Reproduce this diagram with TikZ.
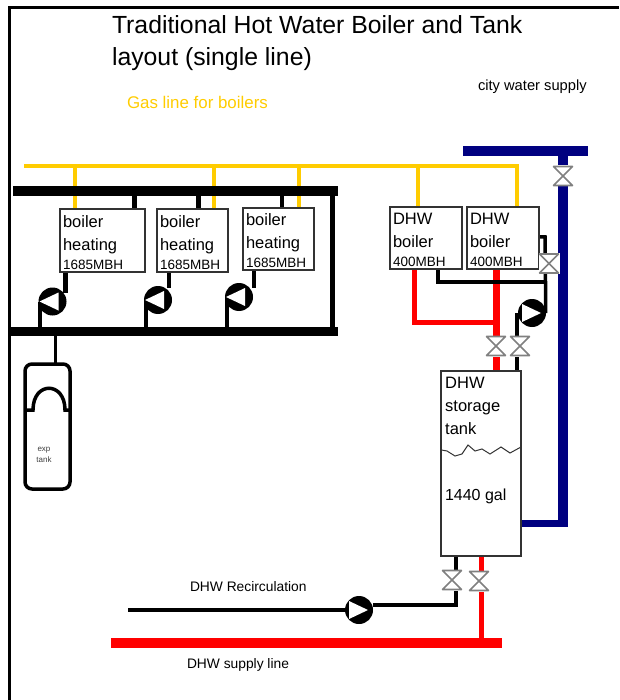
\documentclass[tikz,border=0pt]{standalone}
\usepackage{fontspec}
\setmainfont{Liberation Sans}
\pgfdeclarelayer{pipes}
\pgfsetlayers{pipes,main}
\definecolor{gasy}{HTML}{FFCC00}
\definecolor{cityb}{HTML}{000080}
\definecolor{boxg}{HTML}{333333}
\definecolor{valveg}{HTML}{808080}
\tikzset{
  bar/.style={rectangle,inner sep=0pt,outer sep=0pt,fill=black},
  unitbox/.style={rectangle,draw=boxg,fill=white,line width=1.2pt,inner xsep=3pt,inner ysep=0pt,outer sep=0pt,
    align=left,font=\fontsize{16.5}{23}\selectfont},
  valvebox/.style={rectangle,inner sep=0pt,outer sep=0pt,minimum width=21pt,minimum height=21pt,fill=white,
    path picture={\draw[valveg,line width=1.6pt,line join=round]
      (path picture bounding box.south west)++(1pt,1pt) -- ++(19pt,0pt) -- ++(-19pt,19pt) -- ++(19pt,0pt) -- cycle;}},
  pumpl/.style={circle,inner sep=0pt,outer sep=0pt,minimum size=28pt,fill=black,
    path picture={\fill[white,shift={(path picture bounding box.center)}]
      (-13pt,0pt) -- (6pt,-9pt) -- (6pt,9pt) -- cycle;}},
  pumpr/.style={circle,inner sep=0pt,outer sep=0pt,minimum size=28pt,fill=black,
    path picture={\fill[white,shift={(path picture bounding box.center)}]
      (9pt,0pt) -- (-10pt,-9pt) -- (-10pt,9pt) -- cycle;}},
  gas/.style={draw=gasy,line width=4pt},
  hw/.style={draw=black,line width=4.5pt},
  hot/.style={draw=red,line width=5pt},
  lbl/.style={inner sep=0pt,outer sep=0pt,anchor=base west},
}
\newcommand{\unittext}[3]{\rule{0pt}{16pt}#1\\#2\\[-4pt]{\fontsize{13.5}{20}\selectfont #3}}
\begin{document}
\begin{tikzpicture}[x=1pt,y=-1pt]
\useasboundingbox (0,0) rectangle (619,700);
% frame
\draw[black,line width=3pt] (9.5,700) -- (9.5,7.5) -- (619,7.5);
% titles
\node[lbl,font=\fontsize{24.8}{28}\selectfont] (title1) at (112,34) {Traditional Hot Water Boiler and Tank};
\node[lbl,font=\fontsize{24.8}{28}\selectfont] (title2) at (112,66) {layout (single line)};
\node[lbl,font=\fontsize{14.7}{17}\selectfont] (citylbl) at (478,91) {city water supply};
\node[lbl,text=gasy,font=\fontsize{16.9}{20}\selectfont] (gaslbl) at (127,109) {Gas line for boilers};
\node[lbl,font=\fontsize{13.8}{17}\selectfont] (recirclbl) at (190,591) {DHW Recirculation};
\node[lbl,font=\fontsize{13.8}{17}\selectfont] (supplylbl) at (187,668) {DHW supply line};
% headers
\node[bar,minimum width=325pt,minimum height=10pt] (hdrtop) at (175.5,191.5) {};
\node[bar,minimum width=329pt,minimum height=9pt] (hdrbot) at (173.5,331.5) {};
\node[bar,fill=cityb,minimum width=125pt,minimum height=10pt] (citybar) at (525.5,151) {};
\node[bar,fill=red,minimum width=391pt,minimum height=10pt] (supplybar) at (306.5,643) {};
\coordinate (gasw) at (24,166);
\coordinate (gase) at (517,166);
% boilers
\node[unitbox,text width=79pt,minimum height=63pt] (b1) at (102.5,240.5) {\unittext{boiler}{heating}{1685MBH}};
\node[unitbox,text width=65pt,minimum height=63pt] (b2) at (192.5,240.5) {\unittext{boiler}{heating}{1685MBH}};
\node[unitbox,text width=65pt,minimum height=62pt] (b3) at (278.5,239) {\unittext{boiler}{heating}{1685MBH}};
\node[unitbox,text width=66pt,minimum height=62pt] (d1) at (426,238) {\unittext{DHW}{boiler}{400MBH}};
\node[unitbox,text width=66pt,minimum height=62pt] (d2) at (503,238) {\unittext{DHW}{boiler}{400MBH}};
% pumps
\node[pumpl] (p1) at (52.5,301.5) {};
\node[pumpl] (p2) at (158,300) {};
\node[pumpl] (p3) at (239,297) {};
\node[pumpr] (p4) at (532,313) {};
\node[pumpr] (p5) at (359,610) {};
% valves
\node[valvebox] (vcity) at (563,176) {};
\node[valvebox] (vret) at (549,263.5) {};
\node[valvebox] (vhot) at (496,346) {};
\node[valvebox] (vrtn) at (520,346) {};
\node[valvebox] (vrec) at (452,580) {};
\node[valvebox] (vsup) at (479,581) {};
% storage tank
\node[rectangle,draw=boxg,fill=white,line width=1.2pt,inner sep=0pt,outer sep=0pt,minimum width=80pt,minimum height=185pt] (tank) at (481,463.5) {};
\node[inner sep=0pt,anchor=north west,align=left,font=\fontsize{16.5}{23}\selectfont] (tanklbl) at (445,377) {DHW\\storage\\tank};
\node[lbl,font=\fontsize{16}{20}\selectfont] (tankvol) at (445,500) {1440 gal};
\draw[boxg,line width=1pt] (441.5,450) -- (447,451) -- (455,456) -- (462,454) -- (468,445) -- (475,451) -- (482,449) -- (490,454) -- (501,447) -- (510,453) -- (521,447);
% expansion tank
\node[rectangle,draw=black,fill=white,line width=3.5pt,rounded corners=7pt,inner sep=0pt,outer sep=0pt,minimum width=45pt,minimum height=125pt] (exp) at (47.5,426.5) {};
\draw[black,line width=3.5pt] (exp.west |- 0,410) -- (33,410) .. controls (33,381) and (65,381) .. (65,410) -- (exp.east |- 0,410);
\node[inner sep=0pt,align=center,font=\fontsize{8}{11}\selectfont,text=black!75] (explbl) at (44,455) {exp\\tank};
% junctions
\coordinate (a1) at (65.5,293);
\coordinate (a2) at (169,288);
\coordinate (a3) at (254,288);
\coordinate (c1) at (40,302);
\coordinate (c2) at (146,300);
\coordinate (c3) at (227,297);
\coordinate (g1) at (75,166);
\coordinate (g2) at (214,166);
\coordinate (g3) at (298.5,166);
\coordinate (g4) at (418,166);
\coordinate (s1) at (134.5,197);
\coordinate (s2) at (198.5,197);
\coordinate (s3) at (282,197);
\coordinate (rtnr) at (332,192);
\coordinate (jred) at (414,322);
\coordinate (jblk) at (438,282);
\coordinate (jret) at (545.5,282);
\coordinate (jtop) at (545,237);
\coordinate (jpump) at (517,313);
\coordinate (jrec) at (455.5,605);
\coordinate (jcity) at (563,527);
\coordinate (jtank) at (568,523.5);
\coordinate (jexp) at (55.5,336);
\coordinate (jsup) at (481,556);
\coordinate (recw) at (128,610);
\begin{pgfonlayer}{pipes}
  % gas
  \draw[gas] (gasw) -- (gase) -- (d2.north -| gase);
  \draw[gas] (g1) -- (b1.north -| g1);
  \draw[gas] (g2) -- (b2.north -| g2);
  \draw[gas] (g3) -- ([yshift=-1.5pt]b3.north -| g3);
  \draw[gas] (g4) -- (d1.north -| g4);
  % boiler flow and return
  \draw[hw] (hdrtop.south -| s1) -- (b1.north -| s1);
  \draw[hw] (hdrtop.south -| s2) -- (b2.north -| s2);
  \draw[hw] (hdrtop.south -| s3) -- (b3.north -| s3);
  \draw[black,line width=5pt] (rtnr) -- (hdrbot.north -| rtnr);
  \draw[hw] (b1.south -| a1) -- (a1);
  \draw[hw] (b2.south -| a2) -- (a2);
  \draw[hw] (b3.south -| a3) -- (a3);
  \draw[hw] (c1) -- (hdrbot.north -| c1);
  \draw[hw] (c2) -- (hdrbot.north -| c2);
  \draw[hw] (c3) -- (hdrbot.north -| c3);
  \draw[hw,line width=3.5pt] (hdrbot.south -| jexp) -- (exp.north -| jexp);
  % DHW hot water
  \draw[hot] (d1.south -| jred) -- (jred) -- (jred -| vhot);
  \draw[hot,line width=7pt] (d2.south -| vhot) -- (tank.north -| vhot);
  \draw[hw] (d1.south -| jblk) -- (jblk) -- (jret);
  \draw[hw,line width=3.5pt] (d2.east |- jtop) -- (jtop) -- (jret) -- (jret |- p4);
  \draw[hw,line width=3.5pt] (jpump) -- (tank.north -| jpump);
  % city water
  \draw[cityb,line width=10pt] (citybar.south -| jcity) -- (jcity);
  \draw[cityb,line width=7pt] (tank.east |- jtank) -- (jtank);
  % recirculation and supply
  \draw[hw,line width=4pt] (tank.south -| jrec) -- (jrec) -- (p5.east |- jrec);
  \draw[hw,line width=4pt] (recw) -- (p5);
  \draw[hot] (tank.south -| jsup) -- (supplybar.north -| jsup);
\end{pgfonlayer}
\end{tikzpicture}
\end{document}
